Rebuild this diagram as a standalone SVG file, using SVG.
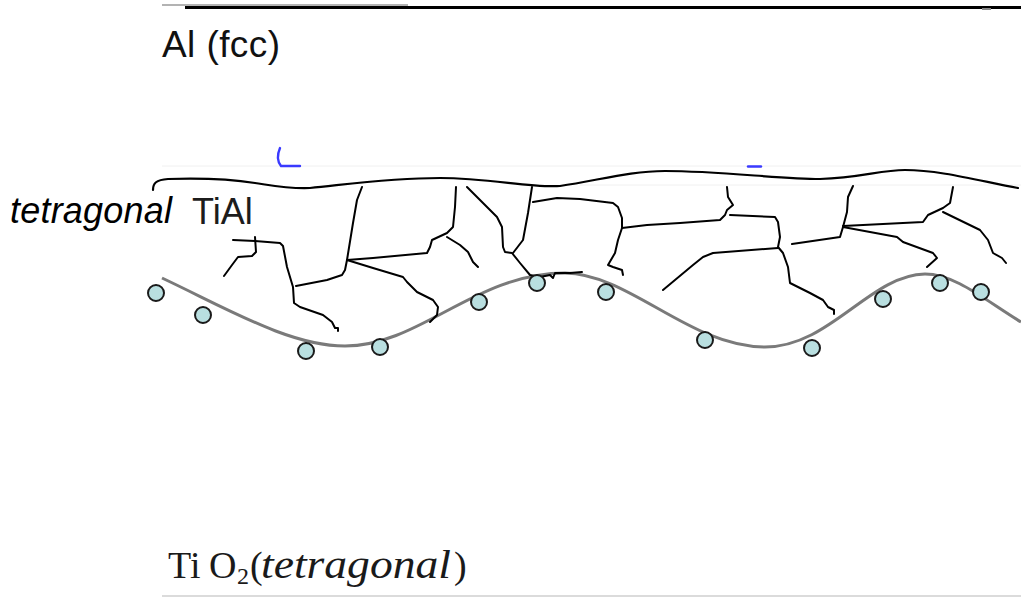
<svg xmlns="http://www.w3.org/2000/svg" width="1021" height="597" viewBox="0 0 1021 597">
  <style>
    .sans { font-family: "Liberation Sans", Arial, sans-serif; }
    .serif { font-family: "Liberation Serif", "Times New Roman", serif; }
    .crack { fill: none; stroke: #000; stroke-width: 2; stroke-linejoin: round; stroke-linecap: round; }
    .bound { fill: none; stroke: #000; stroke-width: 2.2; stroke-linecap: round; }
    .wave { fill: none; stroke: #7a7a7a; stroke-width: 3; }
    .atom { fill: #b9dfe0; stroke: #1a1a1a; stroke-width: 2; }
    .rule { stroke: #cfcfcf; stroke-width: 1.5; }
    .faint { stroke: #f0f0f0; stroke-width: 1; }
  </style>

  <rect x="0" y="0" width="1021" height="597" fill="#ffffff"/>

  <!-- layer boundaries -->
  <g id="layer-rules">
    <line x1="162" y1="5" x2="408" y2="5" stroke="#9a9a9a" stroke-width="1.5"/>
    <line x1="185" y1="7.5" x2="1021" y2="7.5" stroke="#000" stroke-width="2.8"/>
    <rect x="982" y="8" width="9" height="2" fill="#888"/>
    <line class="faint" x1="162" y1="166" x2="1021" y2="166"/>
    <line class="faint" x1="580" y1="185" x2="1021" y2="185"/>
    <line class="rule" x1="162" y1="596" x2="1021" y2="596"/>
  </g>

  <!-- stray blue marks -->
  <g id="marks" fill="none" stroke="#3a3aff" stroke-width="2.4" stroke-linecap="round">
    <path d="M280,148 C277,155 277,161 281,166 L300,166"/>
    <line x1="748" y1="166.5" x2="761" y2="166.5"/>
  </g>

  <!-- labels -->
  <g id="label-al">
    <text class="sans" x="162" y="57" font-size="37" textLength="118" fill="#111">Al (fcc)</text>
  </g>
  <g id="label-tial">
    <text class="sans" x="10" y="223" font-size="36" font-style="italic" textLength="162" fill="#000">tetragonal</text>
    <text class="sans" x="192" y="224" font-size="36" fill="#1c1c1c">TiAl</text>
  </g>
  <g id="label-tio2" class="serif" fill="#1a1a1a">
    <text x="168" y="578" font-size="38">Ti</text>
    <text x="209" y="578" font-size="38">O</text>
    <text x="237" y="584" font-size="24">2</text>
    <text x="250" y="578" font-size="38">(</text>
    <text x="261" y="578" font-size="40" font-style="italic" textLength="190" lengthAdjust="spacingAndGlyphs">tetragonal</text>
    <text x="454" y="578" font-size="38">)</text>
  </g>

  <!-- interface of TiAl layer -->
  <g id="interfaces">
    <path class="bound" d="M153,190 C153,183 156,180 168,179 C200,178 230,179 255,183 C275,186 290,189 310,188 C350,184 390,178 440,178 C490,178 530,188 560,186 C600,180 630,171 665,171 C720,171 780,179 820,179 C860,178 880,170 905,170 C940,170 980,181 1018,188"/>
    <path class="wave" d="M162,278 C230,310 290,346 345,346 C420,346 475,273 565,273 C630,274 690,347 765,347 C830,347 870,275 925,274 C955,274 985,300 1021,322"/>
  </g>

  <!-- grain boundary network -->
  <g id="connectors">
    <polyline class="crack" points="233,240 255,241 280,243 283,246 287,267 293,287 294,303 300,307 323,315 332,322 335,328 338,328 338,331"/>
    <polyline class="crack" points="255,237 256,252 252,256 238,257 232,265 224,276"/>
    <polyline class="crack" points="362,187 357,200 353,223 347,260 345,270 342,275 327,280 296,286"/>
    <polyline class="crack" points="347,260 373,258 427,253 430,247 432,240 447,233 453,227 455,207 456,187"/>
    <polyline class="crack" points="347,260 373,268 403,277 407,282 417,292 433,300 438,307 437,315 430,322"/>
    <polyline class="crack" points="447,237 460,245 468,252 473,262 478,267"/>
    <polyline class="crack" points="467,187 483,203 497,217 502,227 503,247 505,252 512,253 520,263 530,275 540,277 550,275 553,278 555,273 570,273 582,272"/>
    <polyline class="crack" points="532,187 528,213 523,240 513,253"/>
    <polyline class="crack" points="533,202 557,198 580,199 613,203 618,207 622,218 622,228 618,240 615,253 608,265 613,267 622,270 623,275"/>
    <polyline class="crack" points="622,228 647,225 680,223 720,220 725,215 727,210 733,205 728,197 727,187"/>
    <polyline class="crack" points="730,215 775,217 778,222 780,237 778,247 783,253 788,267 790,283 810,293 823,300 828,307 834,310 834,314"/>
    <polyline class="crack" points="778,248 713,253 703,257 693,265 663,290"/>
    <polyline class="crack" points="792,244 840,237 843,227 847,212 848,197 853,186"/>
    <polyline class="crack" points="843,226 923,222 928,215 943,208 950,203 953,187"/>
    <polyline class="crack" points="843,227 897,237 903,242 933,253 937,258 927,267"/>
    <polyline class="crack" points="943,212 980,230 988,240 993,253 1002,258 1006,263"/>
  </g>

  <!-- oxide particles along the interface -->
  <g id="particles">
    <circle id="p1" class="atom" cx="156" cy="293" r="8"/>
    <circle id="p2" class="atom" cx="203" cy="315" r="8"/>
    <circle id="p3" class="atom" cx="306" cy="351" r="8"/>
    <circle id="p4" class="atom" cx="380" cy="347" r="8"/>
    <circle id="p5" class="atom" cx="479" cy="302" r="8"/>
    <circle id="p6" class="atom" cx="537" cy="283" r="8"/>
    <circle id="p7" class="atom" cx="606" cy="292" r="8"/>
    <circle id="p8" class="atom" cx="705" cy="340" r="8"/>
    <circle id="p9" class="atom" cx="812" cy="348" r="8"/>
    <circle id="p10" class="atom" cx="883" cy="299" r="8"/>
    <circle id="p11" class="atom" cx="940" cy="283" r="8"/>
    <circle id="p12" class="atom" cx="981" cy="292" r="8"/>
  </g>
</svg>
